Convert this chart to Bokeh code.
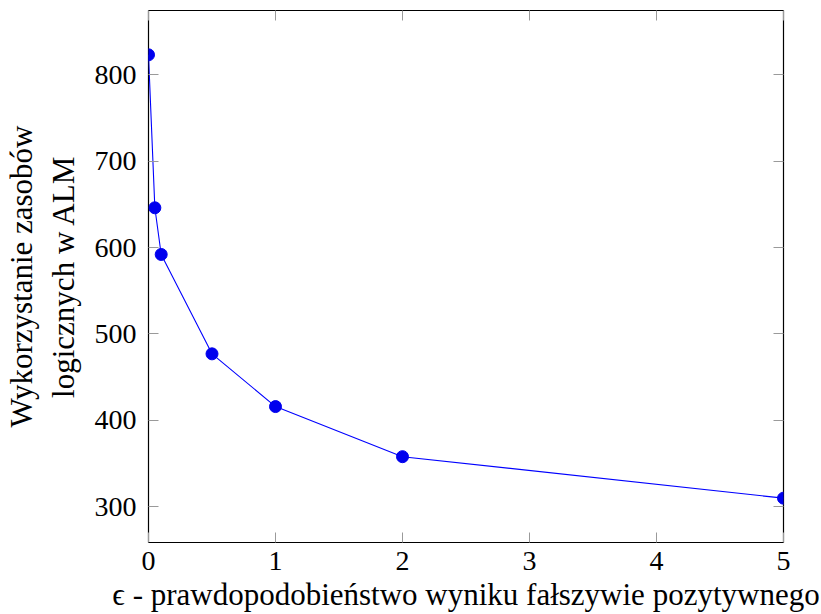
from bokeh.plotting import figure
from bokeh.models import Range1d, FixedTicker, LinearAxis, ColumnDataSource
from bokeh.embed import file_html
from bokeh.resources import INLINE

# Data
eps = [0, 0.05, 0.1, 0.5, 1, 2, 5]
alm = [823, 646, 592, 477, 416, 358, 310]
x_ticks = [0, 1, 2, 3, 4, 5]
y_ticks = [300, 400, 500, 600, 700, 800]
x_label = "ϵ - prawdopodobieństwo wyniku fałszywie pozytywnego"
y_label = "Wykorzystanie zasobów\nlogicznych w ALM"

FONT = "'Liberation Serif', 'Times New Roman', serif"
TICK_SIZE = "28px"
LABEL_SIZE = "31px"
TICK_COLOR = "#9a9a9a"

span = max(alm) - min(alm)
p = figure(
    width=821, height=614,
    output_backend="svg", toolbar_location=None,
    x_range=Range1d(0, 5),
    y_range=Range1d(min(alm) - 0.1 * span, max(alm) + 0.1 * span),
    min_border_left=148, min_border_right=38,
    min_border_top=10, min_border_bottom=72,
)
p.background_fill_color = "white"
p.border_fill_color = "white"
p.outline_line_color = "black"
p.outline_line_width = 1.2
p.grid.visible = False

src = ColumnDataSource(dict(x=eps, y=alm))
p.line("x", "y", source=src, line_color="#0000ff", line_width=1.1)
p.scatter("x", "y", source=src, size=12, fill_color="#0000ee", line_color="#0000ee")

def style_axis(ax, ticks, show_labels):
    ax.ticker = FixedTicker(ticks=ticks)
    ax.major_tick_in = 10
    ax.major_tick_out = 0
    ax.major_tick_line_color = TICK_COLOR
    ax.major_tick_line_width = 1
    ax.minor_tick_line_color = None
    ax.axis_line_color = None
    if show_labels:
        ax.major_label_text_font = FONT
        ax.major_label_text_font_size = TICK_SIZE
        ax.major_label_text_color = "black"
        ax.axis_label_text_font = FONT
        ax.axis_label_text_font_size = LABEL_SIZE
        ax.axis_label_text_font_style = "normal"
        ax.axis_label_text_color = "black"
    else:
        ax.major_label_text_font_size = "0px"
        ax.major_label_standoff = 0
        ax.major_label_text_alpha = 0

xa = p.xaxis[0]
ya = p.yaxis[0]
style_axis(xa, x_ticks, True)
style_axis(ya, y_ticks, True)
xa.major_label_standoff = 9
ya.major_label_standoff = 12
xa.axis_label = x_label
xa.axis_label_standoff = 4
ya.axis_label = y_label
ya.axis_label_standoff = 11

top_ax = LinearAxis()
right_ax = LinearAxis()
style_axis(top_ax, x_ticks, False)
style_axis(right_ax, y_ticks, False)
p.add_layout(top_ax, "above")
p.add_layout(right_ax, "right")

open("out.html", "w").write(file_html(p, INLINE))
